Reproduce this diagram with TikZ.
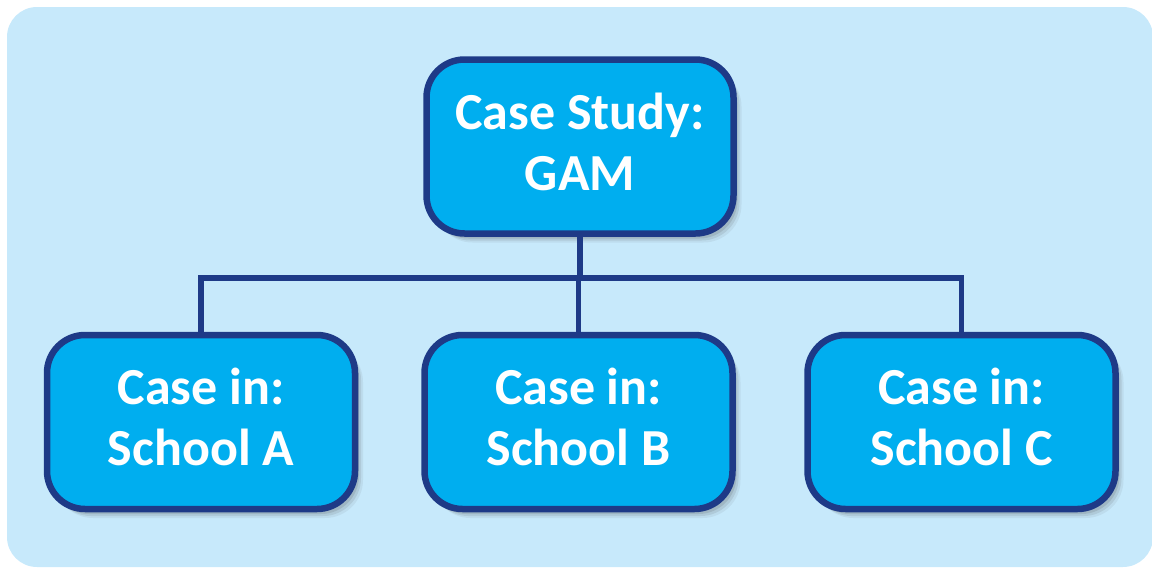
\documentclass[tikz,border=0pt]{standalone}
\usepackage{fontspec}
\setmainfont{Carlito}
\usetikzlibrary{shadows}
\definecolor{bgblue}{HTML}{C7E9FB}
\definecolor{boxblue}{HTML}{00AEEF}
\definecolor{navy}{HTML}{1E3A87}
\begin{document}
\begin{tikzpicture}[x=1pt,y=-1pt,
  casebox/.style={draw=navy, line width=6.5pt, fill=boxblue, rounded corners=38pt,
    inner sep=0pt, align=center, text=white,
    font=\fontsize{52}{61}\selectfont\bfseries,
    execute at end node={\rule[-10pt]{0pt}{10pt}},
    minimum width=308pt, minimum height=174pt,
    general shadow={shadow xshift=4pt, shadow yshift=-5pt, fill=black!70, opacity=0.15},
    general shadow={shadow xshift=6pt, shadow yshift=-7pt, fill=black!70, opacity=0.12},
    general shadow={shadow xshift=8pt, shadow yshift=-9pt, fill=black!70, opacity=0.08}},
  conn/.style={draw=navy, line width=5.5pt}]
\useasboundingbox (0,0) rectangle (1152,568);
\fill[bgblue, rounded corners=30pt] (7,7) rectangle (1153,567);
\coordinate (bar) at (0,278);
\node[casebox, minimum width=307pt] (top) at (580,146.5) {Case Study:\\GAM};
\node[casebox] (a) at (201,422) {Case in:\\School A};
\node[casebox] (b) at (578.5,422) {Case in:\\School B};
\node[casebox] (c) at (961.5,422) {Case in:\\School C};
\begin{scope}[on background layer/.style={}]
\end{scope}
\draw[conn] (top.south) -- (top.south |- bar);
\draw[conn] (a.north) -- (a.north |- bar) -- (c.north |- bar) -- (c.north);
\draw[conn] (b.north) -- (b.north |- bar);
\end{tikzpicture}
\end{document}
